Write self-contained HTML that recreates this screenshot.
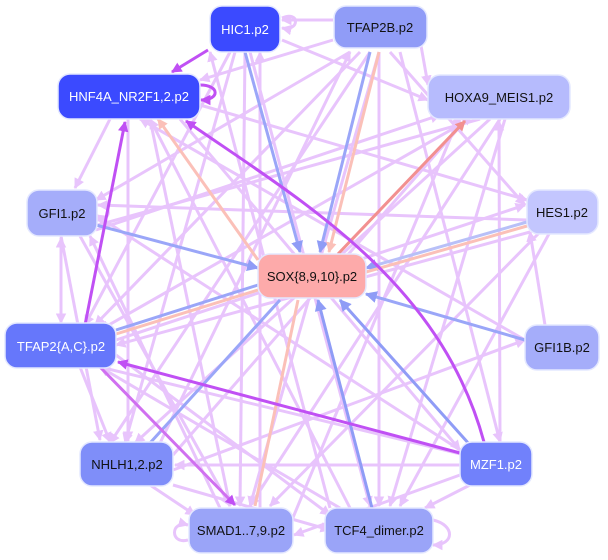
<!DOCTYPE html>
<html><head><meta charset="utf-8"><style>
html,body{margin:0;padding:0;background:#fff;}
svg{display:block;}
text{font-family:"Liberation Sans",sans-serif;font-size:13px;}
</style></head><body>
<svg width="608" height="560" viewBox="0 0 608 560" xmlns="http://www.w3.org/2000/svg">
<defs>
<marker id="mL" viewBox="0 0 10 10" refX="9" refY="5" markerWidth="3.5" markerHeight="3.5" orient="auto"><path d="M0,0L10,5L0,10z" fill="#e8c4fc"/></marker>
<marker id="mP" viewBox="0 0 10 10" refX="9" refY="5" markerWidth="3.5" markerHeight="3.5" orient="auto"><path d="M0,0L10,5L0,10z" fill="#c050f4"/></marker>
<marker id="mB" viewBox="0 0 10 10" refX="9" refY="5" markerWidth="4" markerHeight="4" orient="auto"><path d="M0,0L10,5L0,10z" fill="#8f9cf6"/></marker>
<marker id="mR" viewBox="0 0 10 10" refX="9" refY="5" markerWidth="3.5" markerHeight="3.5" orient="auto"><path d="M0,0L10,5L0,10z" fill="#f29090"/></marker>
<marker id="mS" viewBox="0 0 10 10" refX="9" refY="5" markerWidth="3.5" markerHeight="3.5" orient="auto"><path d="M0,0L10,5L0,10z" fill="#fbc0b8"/></marker>
</defs>
<g stroke="#e8c4fc" stroke-width="3" fill="none" marker-end="url(#mL)">
<line x1="245" y1="52" x2="240" y2="506"/>
<line x1="235" y1="52" x2="125" y2="443"/>
<line x1="230" y1="52" x2="85" y2="325"/>
<line x1="250" y1="52" x2="370" y2="506"/>
<line x1="379" y1="52" x2="250" y2="506"/>
<line x1="379" y1="52" x2="379" y2="506"/>
<line x1="370" y1="52" x2="110" y2="443"/>
<line x1="360" y1="52" x2="95" y2="325"/>
<line x1="350" y1="52" x2="96" y2="200"/>
<line x1="333" y1="20" x2="282" y2="20"/>
<line x1="333" y1="40" x2="200" y2="80"/>
<line x1="390" y1="52" x2="525" y2="205"/>
<line x1="400" y1="52" x2="500" y2="442"/>
<line x1="420" y1="40" x2="428" y2="85"/>
<line x1="282" y1="40" x2="428" y2="100"/>
<line x1="200" y1="105" x2="527" y2="200"/>
<line x1="150" y1="119" x2="230" y2="506"/>
<line x1="128" y1="119" x2="128" y2="441"/>
<line x1="110" y1="119" x2="75" y2="188"/>
<line x1="180" y1="119" x2="460" y2="450"/>
<line x1="480" y1="119" x2="98" y2="225"/>
<line x1="470" y1="119" x2="100" y2="330"/>
<line x1="490" y1="119" x2="135" y2="443"/>
<line x1="500" y1="119" x2="250" y2="506"/>
<line x1="505" y1="119" x2="390" y2="506"/>
<line x1="500" y1="442" x2="499" y2="121"/>
<line x1="527" y1="220" x2="98" y2="205"/>
<line x1="530" y1="232" x2="116" y2="345"/>
<line x1="540" y1="232" x2="270" y2="506"/>
<line x1="550" y1="232" x2="400" y2="506"/>
<line x1="61" y1="325" x2="61" y2="238"/>
<line x1="61" y1="238" x2="61" y2="323"/>
<line x1="80" y1="236" x2="230" y2="506"/>
<line x1="96" y1="230" x2="440" y2="115"/>
<line x1="61" y1="236" x2="100" y2="440"/>
<line x1="116" y1="340" x2="525" y2="205"/>
<line x1="116" y1="355" x2="330" y2="515"/>
<line x1="80" y1="367" x2="110" y2="442"/>
<line x1="173" y1="470" x2="525" y2="340"/>
<line x1="173" y1="455" x2="470" y2="115"/>
<line x1="160" y1="443" x2="350" y2="52"/>
<line x1="173" y1="485" x2="330" y2="530"/>
<line x1="150" y1="485" x2="195" y2="515"/>
<line x1="460" y1="475" x2="294" y2="535"/>
<line x1="460" y1="465" x2="175" y2="465"/>
<line x1="465" y1="455" x2="100" y2="367"/>
<line x1="470" y1="485" x2="425" y2="508"/>
<line x1="460" y1="450" x2="96" y2="215"/>
<line x1="340" y1="508" x2="100" y2="367"/>
<line x1="330" y1="508" x2="210" y2="52"/>
<line x1="350" y1="508" x2="150" y2="119"/>
<line x1="292" y1="520" x2="460" y2="115"/>
<line x1="260" y1="508" x2="260" y2="52"/>
<line x1="220" y1="508" x2="90" y2="236"/>
<line x1="545" y1="325" x2="530" y2="232"/>
<line x1="525" y1="340" x2="140" y2="119"/>
<path d="M282,18 C300,10 300,32 282,28"/>
<path d="M433,520 C455,525 455,545 433,545"/>
<path d="M188,540 C170,545 170,520 188,525"/>
<path d="M97,205 C112,205 112,220 97,220"/>
</g>
<g fill="none" stroke-width="3">
<line x1="245" y1="52" x2="300" y2="252" stroke="#9aa6f8" marker-end="url(#mB)"/>
<line x1="370" y1="52" x2="320" y2="252" stroke="#9aa6f8" marker-end="url(#mB)"/>
<line x1="379" y1="52" x2="329" y2="252" stroke="#fbc0b8" marker-end="url(#mS)"/>
<line x1="96" y1="225" x2="258" y2="268" stroke="#9aa6f8" marker-end="url(#mB)"/>
<line x1="525" y1="340" x2="366" y2="294" stroke="#9aa6f8" marker-end="url(#mB)"/>
<line x1="527" y1="222" x2="366" y2="268" stroke="#b8c0f8" marker-end="url(#mB)"/>
<line x1="527" y1="226" x2="366" y2="272" stroke="#fbc0b8"/>
<line x1="470" y1="445" x2="340" y2="300" stroke="#8f9cf6" marker-end="url(#mB)"/>
<line x1="372" y1="508" x2="318" y2="300" stroke="#8f9cf6" marker-end="url(#mB)"/>
<line x1="150" y1="443" x2="280" y2="300" stroke="#9aa6f8"/>
<line x1="116" y1="330" x2="258" y2="285" stroke="#9aa6f8"/>
<line x1="116" y1="334" x2="258" y2="290" stroke="#fbc0b8"/>
<line x1="258" y1="260" x2="158" y2="119" stroke="#fbc0b8" marker-end="url(#mS)"/>
<line x1="298" y1="300" x2="255" y2="506" stroke="#fbc0b8"/>
<line x1="338" y1="254" x2="465" y2="121" stroke="#f29090" marker-end="url(#mR)"/>
<line x1="208" y1="50" x2="172" y2="72" stroke="#c050f4" marker-end="url(#mP)"/>
<path d="M200,85 C220,85 220,100 201,100" stroke="#c050f4" marker-end="url(#mP)"/>
<path d="M484,442 C440,280 300,200 186,121" stroke="#c050f4" marker-end="url(#mP)"/>
<line x1="460" y1="453" x2="118" y2="362" stroke="#c050f4" marker-end="url(#mP)"/>
<line x1="85" y1="325" x2="125" y2="122" stroke="#c050f4" marker-end="url(#mP)"/>
<line x1="100" y1="367" x2="235" y2="505" stroke="#d070f0" marker-end="url(#mP)"/>
</g>
<g stroke="#e4e8ff" stroke-width="1.5">
<rect x="210" y="6" width="70" height="46" rx="12" fill="#3b4aff"/>
<rect x="334" y="6" width="93" height="42" rx="12" fill="#909cf7"/>
<rect x="58" y="74" width="142" height="45" rx="12" fill="#3b4aff"/>
<rect x="428" y="75" width="142" height="44" rx="12" fill="#b6bbfd"/>
<rect x="27" y="190" width="70" height="46" rx="12" fill="#a5adfa"/>
<rect x="527" y="190" width="71" height="44" rx="12" fill="#c3c6fe"/>
<rect x="258" y="254" width="108" height="44" rx="12" fill="#fdaaaa"/>
<rect x="5" y="323" width="111" height="45" rx="12" fill="#6677fb"/>
<rect x="525" y="325" width="74" height="45" rx="12" fill="#a5adfa"/>
<rect x="80" y="442" width="93" height="44" rx="12" fill="#7f8ef9"/>
<rect x="460" y="442" width="72" height="44" rx="12" fill="#7181fb"/>
<rect x="189" y="508" width="104" height="45" rx="12" fill="#9aa4f8"/>
<rect x="325" y="508" width="108" height="45" rx="12" fill="#9aa4f8"/>
</g>
<g text-anchor="middle">
<text x="245" y="34" fill="#fff">HIC1.p2</text>
<text x="380" y="32" fill="#111">TFAP2B.p2</text>
<text x="129" y="101" fill="#fff">HNF4A_NR2F1,2.p2</text>
<text x="499" y="102" fill="#111">HOXA9_MEIS1.p2</text>
<text x="62" y="218" fill="#111">GFI1.p2</text>
<text x="562" y="217" fill="#111">HES1.p2</text>
<text x="312" y="281" fill="#111">SOX{8,9,10}.p2</text>
<text x="61" y="351" fill="#fff">TFAP2{A,C}.p2</text>
<text x="562" y="352" fill="#111">GFI1B.p2</text>
<text x="127" y="469" fill="#111">NHLH1,2.p2</text>
<text x="496" y="469" fill="#fff">MZF1.p2</text>
<text x="241" y="535" fill="#111">SMAD1..7,9.p2</text>
<text x="379" y="535" fill="#111">TCF4_dimer.p2</text>
</g>
</svg>
</body></html>
